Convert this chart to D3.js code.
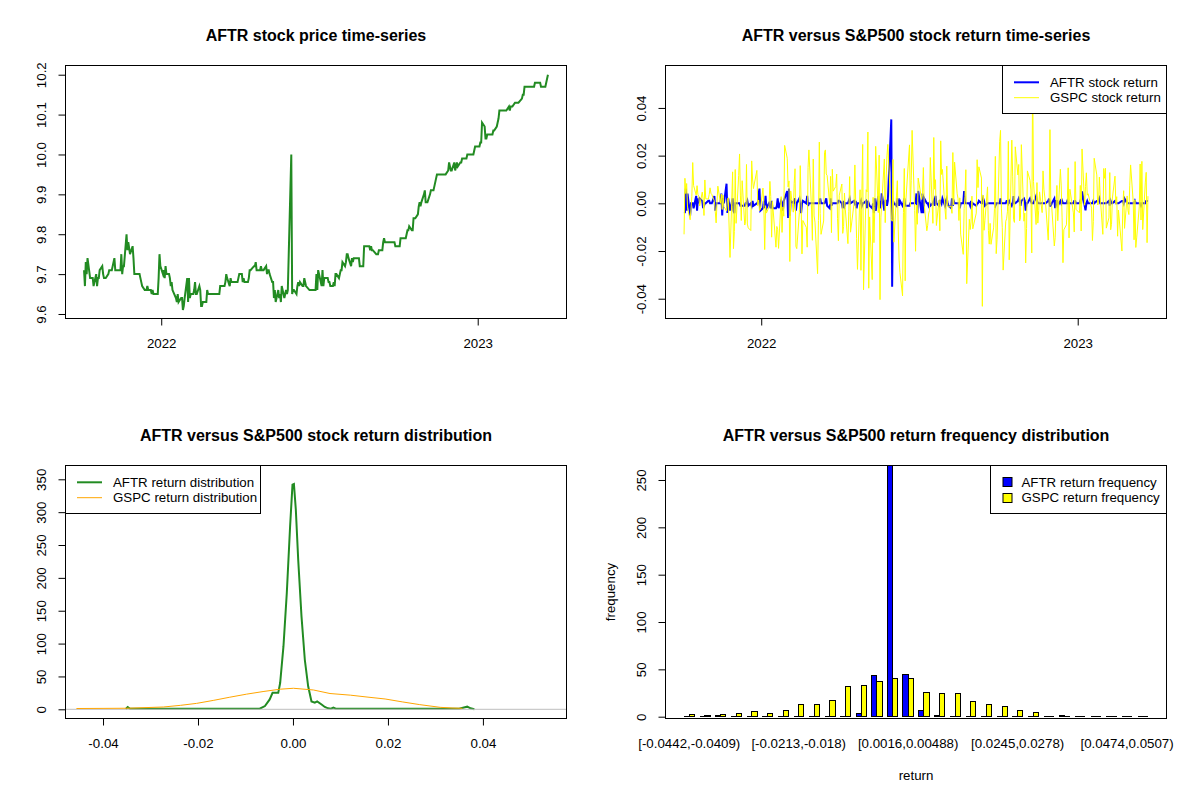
<!DOCTYPE html>
<html>
<head>
<meta charset="utf-8">
<script src="https://cdn.jsdelivr.net/npm/d3@7"></script>
<style>
body { margin: 0; background: #fff; }
</style>
</head>
<body>
<svg id="chart" width="1200" height="800"></svg>
<script>
// plot box inside each 600x400 panel (R mfrow=c(2,2) margins)
var boxL = 65.5, boxR = 566.5, boxT = 65.5, boxB = 318.5;
var fontFamily = "'Liberation Sans', Arial, sans-serif";
var fontSize = 13.3;

// trading calendar
var startDay = "2021-10-04";
var endDay = "2023-03-23";
var holidays = ["2021-11-25","2021-12-24","2022-01-17","2022-02-21","2022-04-15","2022-05-30",
	"2022-06-20","2022-07-04","2022-09-05","2022-11-24","2022-12-26","2023-01-02","2023-01-16","2023-02-20"];

// AFTR close, in cents
var aftrClose = [
	971,967,973,970,974,969,969,969,969,967, 970,967,969,969,971,972,970,969,969,969,
	970,971,971,971,971,974,971,971,971,971, 971,975,970,972,972,980,976,978,975,977,
	974,970,970,970,970,970,969,968,967,966, 966,966,967,966,966,965,966,965,965,965,
	969,975,972,970,971,969,972,970,970,969, 967,968,966,964,963,965,963,964,964,961,
	962,964,969,963,969,964,965,965,966,968, 965,965,967,966,962,962,963,963,966,965,
	965,965,965,965,965,965,965,965,965,967, 967,967,967,968,970,969,967,969,968,968,
	968,968,968,968,969,970,970,968,969,968, 968,968,969,971,971,972,972,973,971,971,
	971,972,971,971,971,972,970,971,971,970, 968,968,964,966,963,966,964,965,963,967,
	964,965,966,965,966,1000,965,966,966,965, 967,968,967,968,967,967,969,968,967,966,
	966,966,966,966,966,970,966,971,967,971, 967,969,969,969,968,968,967,967,968,967,
	970,970,969,970,971,971,973,972,973,975, 975,974,972,974,973,974,974,974,974,974,
	972,972,972,977,977,977,977,977,976,977, 976,976,975,975,975,976,976,976,978,979,
	978,978,978,978,978,978,978,978,977,977, 977,977,979,979,979,979,979,980,981,981,
	982,981,981,984,984,984,985,987,988,987, 988,990,991,988,988,988,990,991,991,991,
	991,994,995,995,995,995,995,995,995,995, 996,998,997,996,996,998,996,997,998,997,
	998,998,999,999,999,999,1000,1000,1000,1000, 1000,1001,1002,1002,1002,1003,1003,1008,1007,1004,
	1004,1005,1005,1005,1005,1006,1006,1007,1008,1009, 1011,1011,1011,1011,1011,1011,1011,1012,1011,1012,
	1012,1012,1013,1013,1013,1013,1013,1014,1015,1015, 1017,1017,1017,1017,1017,1017,1017,1017,1018,1018,
	1018,1018,1018,1017,1017,1017,1017,1018,1019,1020
];

// GSPC daily return, percent
var gspcReturn = [
	-1.30,1.05,0.41,0.83,-0.19,-0.69,-0.24,0.30,1.71,0.75,0.34,0.74,0.37,0.30,-0.11,0.47,0.18,-0.51,0.98,0.19,
	0.18,0.37,0.65,0.42,0.37,0.09,-0.35,-0.82,0.06,0.72,0.00,0.39,-0.26,0.34,-0.14,-0.32,0.17,0.23,-2.27,1.32,-1.90,
	-1.18,1.42,-0.84,1.17,2.07,0.31,-0.72,0.95,-0.91,-0.75,1.63,-0.87,-1.03,-1.14,1.78,1.02,0.62,1.38,-0.10,0.14,-0.30,-0.26,
	0.64,-0.06,-1.94,-0.10,-0.41,-0.14,0.92,0.28,-1.42,0.08,-1.84,-0.97,-1.10,-1.89,0.28,-1.22,-0.15,-0.54,2.43,1.89,
	0.69,0.94,-2.44,0.52,-0.37,0.84,1.45,-1.81,-1.90,-0.38,1.58,0.09,-2.12,-0.72,-1.01,-1.84,1.50,2.24,-0.24,
	-1.55,1.86,-0.53,-0.79,-2.95,-0.72,2.57,-0.43,-1.30,-0.74,2.14,2.24,1.23,1.17,-0.04,1.13,-1.23,1.43,0.51,0.71,1.23,-0.63,-1.57,
	0.34,0.81,-1.26,-0.97,0.43,-0.27,-1.69,-0.34,1.12,-1.21,-0.02,1.61,-0.06,-1.48,-2.77,0.57,-2.81,0.21,2.47,-3.63,
	0.57,0.48,2.99,-3.56,-0.57,-3.20,0.25,-1.65,-0.13,2.39,-0.39,2.02,-4.04,-0.58,0.01,1.86,-0.81,0.95,1.99,2.47,-0.63,
	-0.75,1.84,-1.63,0.31,0.95,-1.08,-2.38,-2.91,-3.88,-0.38,1.46,-3.25,0.22,2.45,-0.13,0.95,3.06,-0.30,-2.01,-0.07,-0.88,
	1.06,0.16,0.36,1.50,-0.08,-1.15,-0.92,-0.45,-0.30,1.92,-0.84,2.76,0.59,0.99,-0.93,0.13,-1.15,2.62,1.21,1.42,
	-0.28,-0.67,1.56,-0.08,-0.16,-0.12,-0.42,2.13,-0.07,1.73,0.40,0.19,-0.72,0.23,-1.29,-2.14,-0.22,0.29,1.41,-3.37,-0.67,-1.10,-0.78,
	0.30,-1.07,-0.41,1.83,0.66,1.53,1.06,-4.32,0.34,-1.13,-0.72,0.69,-1.13,-1.71,-0.84,-1.72,-1.03,-0.21,1.97,-2.11,-1.51,
	2.59,3.06,-0.20,-1.02,-2.80,-0.75,-0.65,-0.33,2.60,-2.37,2.65,1.14,-0.67,-0.80,2.37,1.19,1.63,-0.74,-0.61,2.46,-0.75,
	-0.41,-2.50,-1.06,1.36,0.96,0.56,-2.08,5.54,0.92,-0.89,0.87,-0.83,-0.31,0.48,-0.39,1.36,0.59,-0.03,-1.54,-0.16,3.09,
	-0.09,-0.12,-1.79,-1.44,-0.19,0.75,-0.73,1.43,0.73,-0.61,-2.49,-1.11,-0.90,0.10,1.49,-1.45,0.59,-0.40,-1.20,1.75,-0.25,
	-0.40,0.75,-1.16,2.28,-0.08,0.70,1.28,0.34,0.40,-0.20,-1.56,-0.76,1.89,1.19,-0.07,-0.02,1.10,0.25,-1.30,1.46,
	1.05,1.47,-1.04,-0.61,1.29,-1.11,-0.88,0.22,1.14,-0.03,0.28,-1.38,-0.28,-2.00,-0.16,0.53,-1.05,0.31,-0.30,
	-0.47,0.76,1.61,0.07,-1.53,0.14,-1.85,-1.45,-0.15,1.65,-0.70,1.76,-1.10,0.89,1.30,-1.65,0.30
];

// kernel density curves [return, density]
var aftrDensity = [[-0.0352,0.5],[-0.0348,3.5],[-0.0343,0.9],[-0.030,0.8],[-0.020,0.7],[-0.010,0.7],
	[-0.0070,0.9],[-0.0059,5],[-0.0049,15],[-0.0043,25],[-0.0031,25],[-0.0027,40],[-0.0020,96],
	[-0.0013,177],[-0.0006,279],[-0.0001,342],[0.0002,343],[0.0006,304],[0.0011,228],[0.0018,141],
	[0.0025,75],[0.0032,35],[0.0039,12],[0.0046,10],[0.0051,12],[0.0061,7],[0.0067,3.5],[0.0074,1.5],
	[0.0080,1],[0.0085,2.5],[0.0090,0.8],[0.015,0.7],[0.025,0.7],[0.035,0.8],[0.0362,3],[0.0367,4],
	[0.0374,1.5],[0.0382,0.2]];
var gspcDensity = [[-0.0456,1.2],[-0.040,1.4],[-0.035,1.6],[-0.0273,3.5],[-0.0237,6],[-0.0203,9],
	[-0.0168,13.5],[-0.0133,18.4],[-0.0098,23],[-0.0063,27],[-0.0027,30.6],[0.0001,32],[0.0043,29.4],
	[0.0078,24],[0.0121,21.5],[0.0158,18.5],[0.0194,15.7],[0.0230,11.3],[0.0267,7.1],[0.0310,3],
	[0.0335,2],[0.0357,1.5]];

// return frequency, 30 bins
var aftrFreq = [0,0,1,0,0,0,0,0,0,0,0,3,44,268,45,7,1,0,0,0,0,0,0,0,1,0,0,0,0,0];
var gspcFreq = [2,1,2,3,6,3,7,13,13,17,32,33,37,40,40,26,25,24,16,13,11,7,4,0,0,0,0,0,0,0];
var binLabelIndex = [0,7,14,21,28];
var binLabels = ["[-0.0442,-0.0409)","[-0.0213,-0.018)","[0.0016,0.00488)","[0.0245,0.0278)","[0.0474,0.0507)"];

// axis ticks
var yearTicks = ["2022-01-01","2023-01-01"];
var priceTicks = [9.6,9.7,9.8,9.9,10.0,10.1,10.2];
var returnTicks = [-0.04,-0.02,0,0.02,0.04];
var densityTicks = [0,50,100,150,200,250,300,350];
var freqTicks = [0,50,100,150,200,250];

var rFormat = d3.formatLocale({decimal: ".", thousands: ",", grouping: [3], currency: ["", ""], minus: "-"}).format;
var parseDay = d3.timeParse("%Y-%m-%d");
var fmtDay = d3.timeFormat("%Y-%m-%d");

var days = d3.timeDay.range(parseDay(startDay), d3.timeDay.offset(parseDay(endDay), 1))
	.filter(function(d) { return d.getDay() % 6 != 0 && holidays.indexOf(fmtDay(d)) < 0; });

var priceSeries = days.map(function(d, i) { return {date: d, value: aftrClose[i]/100}; });
var aftrSeries = d3.pairs(priceSeries).map(function(p) {
	return {date: p[1].date, value: p[1].value/p[0].value - 1};
});
var gspcSeries = days.map(function(d, i) { return {date: d, value: gspcReturn[i]/100}; });

var svg = d3.select("#chart");
svg.append("rect").attr("width", 1200).attr("height", 800).attr("fill", "#fff");

function panel(col, row, title, id) {
	var g = svg.append("g")
	.attr("transform", "translate("+[col*600, row*400]+")")
	.attr("font-family", fontFamily);
	g.append("clipPath")
	.attr("id", id)
	.append("rect")
	.attr("x", boxL).attr("y", boxT)
	.attr("width", boxR-boxL).attr("height", boxB-boxT);
	g.append("text")
	.attr("x", (boxL+boxR)/2)
	.attr("y", 41)
	.attr("text-anchor", "middle")
	.attr("font-size", 16)
	.attr("font-weight", "bold")
	.text(title);
	return g;
}

function box(g) {
	g.append("rect")
	.attr("x", boxL).attr("y", boxT)
	.attr("width", boxR-boxL).attr("height", boxB-boxT)
	.attr("fill", "none")
	.attr("stroke", "#000");
}

function bottomAxis(g, scale, ticks, fmt) {
	var a = g.append("g")
	.attr("transform", "translate(0,"+boxB+")")
	.call(d3.axisBottom(scale).tickValues(ticks).tickFormat(fmt).tickSize(7).tickSizeOuter(0));
	a.select(".domain").remove();
	a.attr("font-size", fontSize).attr("font-family", fontFamily);
	a.selectAll("line").attr("stroke", "#000");
	a.selectAll("text").attr("y", 29.5).attr("dy", null).attr("fill", "#000");
}

function leftAxis(g, scale, ticks, fmt) {
	var a = g.append("g")
	.attr("transform", "translate("+boxL+",0)")
	.call(d3.axisLeft(scale).tickValues(ticks).tickFormat(fmt).tickSize(7).tickSizeOuter(0));
	a.select(".domain").remove();
	a.attr("font-size", fontSize).attr("font-family", fontFamily).attr("text-anchor", "middle");
	a.selectAll("line").attr("stroke", "#000");
	a.selectAll("text")
	.attr("x", 0).attr("y", -19.5).attr("dy", null)
	.attr("transform", "rotate(-90)")
	.attr("fill", "#000");
}

function legend(g, x, w, items) {
	var lg = g.append("g");
	lg.append("rect")
	.attr("x", x).attr("y", boxT)
	.attr("width", w).attr("height", 48)
	.attr("fill", "#fff")
	.attr("stroke", "#000");
	items.forEach(function(it, i) {
		var cy = 82.3 + i*15.4;
		if (it.fill) {
			lg.append("rect")
			.attr("x", x+12.5).attr("y", Math.round(cy)-4.5)
			.attr("width", 9).attr("height", 9)
			.attr("fill", it.fill)
			.attr("stroke", "#000");
			lg.append("text")
			.attr("x", x+31).attr("y", cy).attr("dy", "0.35em")
			.attr("font-size", fontSize)
			.text(it.label);
		} else {
			lg.append("line")
			.attr("x1", x+11.5).attr("x2", x+36.5)
			.attr("y1", cy).attr("y2", cy)
			.attr("stroke", it.color)
			.attr("stroke-width", it.width);
			lg.append("text")
			.attr("x", x+47.5).attr("y", cy).attr("dy", "0.35em")
			.attr("font-size", fontSize)
			.text(it.label);
		}
	});
}

// shared time axis, R style 4% padding
var t0 = days[0], t1 = days[days.length-1];
var span = t1 - t0;
var xTime = d3.scaleTime()
	.domain([new Date(+t0 - 0.04*span), new Date(+t1 + 0.04*span)])
	.range([boxL, boxR]);
var yearDates = yearTicks.map(parseDay);

// 1. price
var g1 = panel(0, 0, "AFTR stock price time-series", "clip1");
var yPrice = d3.scaleLinear().domain([9.5887, 10.2231]).range([boxB, boxT]);
g1.append("path")
	.datum(priceSeries)
	.attr("clip-path", "url(#clip1)")
	.attr("fill", "none")
	.attr("stroke", "#228B22")
	.attr("stroke-width", 2)
	.attr("d", d3.line().x(function(d) { return xTime(d.date); }).y(function(d) { return yPrice(d.value); }));
box(g1);
bottomAxis(g1, xTime, yearDates, d3.timeFormat("%Y"));
leftAxis(g1, yPrice, priceTicks, rFormat(".1f"));

// 2. returns
var g2 = panel(1, 0, "AFTR versus S&P500 stock return time-series", "clip2");
var yRet = d3.scaleLinear().domain([-0.0483, 0.0578]).range([boxB, boxT]);
var retLine = d3.line().x(function(d) { return xTime(d.date); }).y(function(d) { return yRet(d.value); });
g2.append("path")
	.datum(aftrSeries)
	.attr("clip-path", "url(#clip2)")
	.attr("fill", "none")
	.attr("stroke", "#0000FF")
	.attr("stroke-width", 2)
	.attr("d", retLine);
g2.append("path")
	.datum(gspcSeries)
	.attr("clip-path", "url(#clip2)")
	.attr("fill", "none")
	.attr("stroke", "#FFFF00")
	.attr("stroke-width", 1)
	.attr("d", retLine);
box(g2);
bottomAxis(g2, xTime, yearDates, d3.timeFormat("%Y"));
leftAxis(g2, yRet, returnTicks, rFormat(".2f"));
legend(g2, 402.5, 164, [
	{label: "AFTR stock return", color: "#0000FF", width: 2},
	{label: "GSPC stock return", color: "#FFFF00", width: 1}
]);

// 3. densities
var g3 = panel(0, 1, "AFTR versus S&P500 stock return distribution", "clip3");
var xDen = d3.scaleLinear().domain([-0.0479, 0.0576]).range([boxL, boxR]);
var yDen = d3.scaleLinear().domain([-14.0, 371.0]).range([boxB, boxT]);
var denLine = d3.line().x(function(d) { return xDen(d[0]); }).y(function(d) { return yDen(d[1]); });
g3.append("path")
	.datum(aftrDensity)
	.attr("clip-path", "url(#clip3)")
	.attr("fill", "none")
	.attr("stroke", "#228B22")
	.attr("stroke-width", 2)
	.attr("d", denLine);
g3.append("line")
	.attr("x1", boxL).attr("x2", boxR)
	.attr("y1", yDen(0)).attr("y2", yDen(0))
	.attr("stroke", "#BEBEBE");
g3.append("path")
	.datum(gspcDensity)
	.attr("clip-path", "url(#clip3)")
	.attr("fill", "none")
	.attr("stroke", "#FFA500")
	.attr("stroke-width", 1)
	.attr("d", denLine);
box(g3);
bottomAxis(g3, xDen, returnTicks, rFormat(".2f"));
leftAxis(g3, yDen, densityTicks, rFormat("d"));
legend(g3, boxL, 195, [
	{label: "AFTR return distribution", color: "#228B22", width: 2},
	{label: "GSPC return distribution", color: "#FFA500", width: 1}
]);

// 4. frequency bars, barplot(beside=TRUE) units: group i spans [3i+1, 3i+3]
var g4 = panel(1, 1, "AFTR versus S&P500 return frequency distribution", "clip4");
var nUnits = aftrFreq.length*3;
var xBar = d3.scaleLinear().domain([1 - 0.04*(nUnits-1), nUnits + 0.04*(nUnits-1)]).range([boxL, boxR]);
var yBar = d3.scaleLinear().domain([-1.9, 265.3]).range([boxB, boxT]);
var bars = [];
aftrFreq.forEach(function(v, i) {
	bars.push({u: 3*i+1, value: v, fill: "#0000FF"});
	bars.push({u: 3*i+2, value: gspcFreq[i], fill: "#FFFF00"});
});
g4.append("g")
	.attr("clip-path", "url(#clip4)")
	.selectAll("path")
	.data(bars)
	.enter().append("path")
	.attr("fill", function(d) { return d.fill; })
	.attr("stroke", "#000")
	.attr("shape-rendering", "crispEdges")
	.attr("d", function(d) {
		var x0 = xBar(d.u), x1 = xBar(d.u+1), y0 = yBar(0), y1 = yBar(d.value);
		return "M"+x0+","+y0+"H"+x1+"V"+y1+"H"+x0+"Z";
	});
box(g4);
leftAxis(g4, yBar, freqTicks, rFormat("d"));
g4.append("g")
	.selectAll("text")
	.data(binLabelIndex)
	.enter().append("text")
	.attr("x", function(d) { return xBar(3*d+2); })
	.attr("y", boxB+29.5)
	.attr("text-anchor", "middle")
	.attr("font-size", fontSize)
	.text(function(d, i) { return binLabels[i]; });
g4.append("text")
	.attr("x", (boxL+boxR)/2)
	.attr("y", boxB+61)
	.attr("text-anchor", "middle")
	.attr("font-size", fontSize)
	.text("return");
g4.append("text")
	.attr("transform", "translate("+[14.5, (boxT+boxB)/2]+") rotate(-90)")
	.attr("text-anchor", "middle")
	.attr("font-size", fontSize)
	.text("frequency");
legend(g4, 390.5, 176, [
	{label: "AFTR return frequency", fill: "#0000FF"},
	{label: "GSPC return frequency", fill: "#FFFF00"}
]);
</script>
</body>
</html>
